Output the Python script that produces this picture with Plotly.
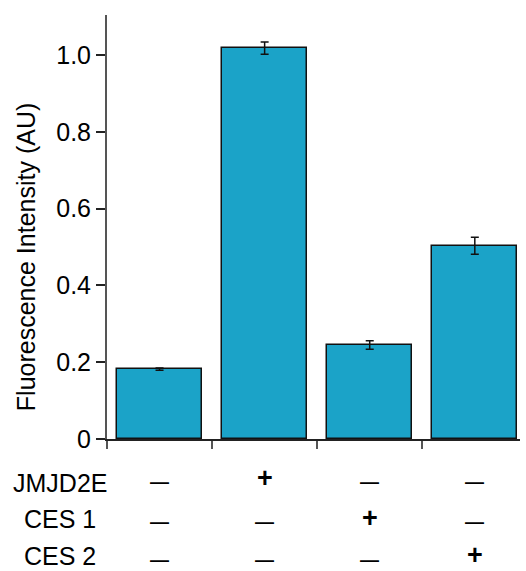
import plotly.graph_objects as go

# Assay conditions and measured fluorescence (mean ± error)
conditions = ["Control", "JMJD2E", "CES 1", "CES 2"]
intensity = [0.182, 1.018, 0.245, 0.503]
errors = [0.003, 0.016, 0.011, 0.022]

# Presence/absence table shown beneath the bars
row_labels = ["JMJD2E", "CES 1", "CES 2"]
row_signs = [
    ["—", "+", "—", "—"],
    ["—", "—", "+", "—"],
    ["—", "—", "—", "+"],
]

FONT = "Liberation Sans, Arial, sans-serif"
BAR_COLOR = "#1ba3c8"
AXIS_COLOR = "#555555"
TEXT_SIZE = 25

x_idx = list(range(len(conditions)))

fig = go.Figure()
fig.add_trace(go.Bar(
    x=x_idx,
    y=intensity,
    width=0.81,
    marker=dict(color=BAR_COLOR, line=dict(color="#111111", width=1.5)),
    error_y=dict(type="data", array=errors, visible=True,
                 color="#111111", thickness=1.5, width=4),
    showlegend=False,
))

annotations = []
label_offsets = [-43.5, -80, -117]
dash_offsets = [-42, -82, -120]
plus_offsets = [-39, -79, -116]
for r, label in enumerate(row_labels):
    annotations.append(dict(
        x=-0.114, xref="paper", y=0, yref="paper", yshift=label_offsets[r],
        text=label, showarrow=False, xanchor="center", yanchor="middle",
        font=dict(family=FONT, size=TEXT_SIZE, color="black"),
    ))
    for c, sign in enumerate(row_signs[r]):
        is_plus = sign == "+"
        annotations.append(dict(
            x=x_idx[c], xref="x", y=0, yref="paper",
            yshift=plus_offsets[r] if is_plus else dash_offsets[r],
            text="<b>%s</b>" % sign, showarrow=False,
            xanchor="center", yanchor="middle",
            font=dict(family=FONT, size=27 if is_plus else 19, color="black"),
        ))

# rotated y-axis title
annotations.append(dict(
    x=-0.197, xref="paper", y=0.428, yref="paper",
    text="Fluorescence Intensity (AU)", textangle=-90, showarrow=False,
    xanchor="center", yanchor="middle",
    font=dict(family=FONT, size=TEXT_SIZE, color="black"),
))

fig.update_layout(
    width=526, height=571,
    margin=dict(l=107, r=6, t=15, b=132),
    paper_bgcolor="white", plot_bgcolor="white",
    font=dict(family=FONT, size=TEXT_SIZE, color="black"),
    bargap=0,
    annotations=annotations,
    xaxis=dict(
        range=[-0.5, 3.43],
        tickvals=[-0.5, 0.5, 1.5, 2.5],
        ticktext=["", "", "", ""],
        ticks="outside", ticklen=8, tickwidth=1.5, tickcolor=AXIS_COLOR,
        showline=True, linecolor="#222222", linewidth=1.5,
        showgrid=False, zeroline=False,
    ),
    yaxis=dict(
        range=[0, 1.104],
        tickvals=[0, 0.2, 0.4, 0.6, 0.8, 1.0],
        ticktext=["0", "0.2", "0.4", "0.6", "0.8", "1.0"],
        ticks="outside", ticklen=9, tickwidth=1.5, tickcolor="#222222",
        ticklabelstandoff=0,
        showline=True, linecolor=AXIS_COLOR, linewidth=2,
        showgrid=False, zeroline=False,
        tickfont=dict(family=FONT, size=TEXT_SIZE),
    ),
)

fig.write_html("out.html")
